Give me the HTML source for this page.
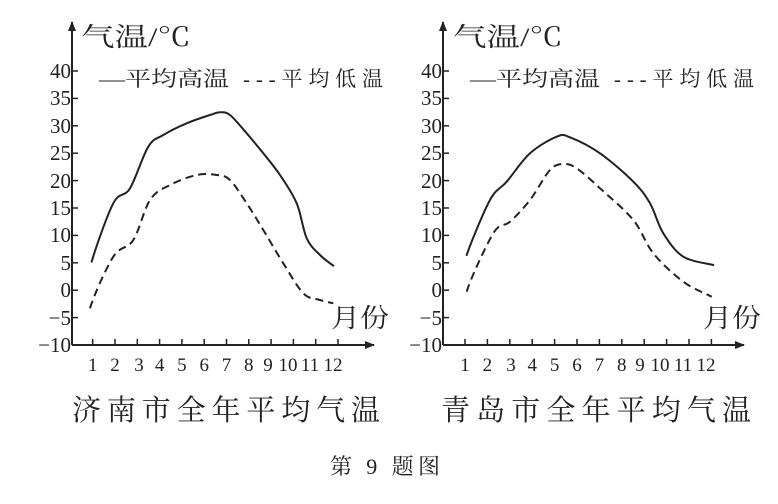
<!DOCTYPE html>
<html><head><meta charset="utf-8"><style>
html,body{margin:0;padding:0;background:#fff;}
svg{display:block;}
text{font-family:"Liberation Serif","Noto Serif CJK SC",serif;fill:#222;}
</style></head><body>
<svg width="778" height="504" viewBox="0 0 778 504" xmlns="http://www.w3.org/2000/svg">
<defs>
<marker id="ar" markerWidth="10" markerHeight="8" refX="9" refY="4" orient="auto" markerUnits="userSpaceOnUse">
<path d="M0,0 L10,4 L0,8 Z" fill="#222"/></marker>
</defs>
<g stroke="#222" stroke-width="2" fill="none">
<line x1="72" y1="345" x2="72" y2="22" marker-end="url(#ar)"/>
<line x1="72" y1="345" x2="374" y2="345" marker-end="url(#ar)"/>
<line x1="443" y1="345" x2="443" y2="22" marker-end="url(#ar)"/>
<line x1="443" y1="345" x2="744" y2="345" marker-end="url(#ar)"/>
</g>
<g stroke="#222" stroke-width="1.5">
<line x1="72" y1="71" x2="78" y2="71"/><line x1="72" y1="98.4" x2="78" y2="98.4"/><line x1="72" y1="125.8" x2="78" y2="125.8"/><line x1="72" y1="153.2" x2="78" y2="153.2"/><line x1="72" y1="180.6" x2="78" y2="180.6"/><line x1="72" y1="208" x2="78" y2="208"/><line x1="72" y1="235.4" x2="78" y2="235.4"/><line x1="72" y1="262.8" x2="78" y2="262.8"/><line x1="72" y1="290.2" x2="78" y2="290.2"/><line x1="72" y1="317.6" x2="78" y2="317.6"/>
<line x1="443" y1="71" x2="449" y2="71"/><line x1="443" y1="98.4" x2="449" y2="98.4"/><line x1="443" y1="125.8" x2="449" y2="125.8"/><line x1="443" y1="153.2" x2="449" y2="153.2"/><line x1="443" y1="180.6" x2="449" y2="180.6"/><line x1="443" y1="208" x2="449" y2="208"/><line x1="443" y1="235.4" x2="449" y2="235.4"/><line x1="443" y1="262.8" x2="449" y2="262.8"/><line x1="443" y1="290.2" x2="449" y2="290.2"/><line x1="443" y1="317.6" x2="449" y2="317.6"/>
<line x1="92.7" y1="345" x2="92.7" y2="339"/><line x1="115" y1="345" x2="115" y2="339"/><line x1="137.3" y1="345" x2="137.3" y2="339"/><line x1="159.6" y1="345" x2="159.6" y2="339"/><line x1="181.9" y1="345" x2="181.9" y2="339"/><line x1="204.2" y1="345" x2="204.2" y2="339"/><line x1="226.5" y1="345" x2="226.5" y2="339"/><line x1="248.8" y1="345" x2="248.8" y2="339"/><line x1="271.1" y1="345" x2="271.1" y2="339"/><line x1="293.4" y1="345" x2="293.4" y2="339"/><line x1="315.7" y1="345" x2="315.7" y2="339"/><line x1="338" y1="345" x2="338" y2="339"/>
<line x1="465" y1="345" x2="465" y2="339"/><line x1="487.4" y1="345" x2="487.4" y2="339"/><line x1="509.8" y1="345" x2="509.8" y2="339"/><line x1="532.2" y1="345" x2="532.2" y2="339"/><line x1="554.6" y1="345" x2="554.6" y2="339"/><line x1="577" y1="345" x2="577" y2="339"/><line x1="599.4" y1="345" x2="599.4" y2="339"/><line x1="621.8" y1="345" x2="621.8" y2="339"/><line x1="644.2" y1="345" x2="644.2" y2="339"/><line x1="666.6" y1="345" x2="666.6" y2="339"/><line x1="689" y1="345" x2="689" y2="339"/><line x1="711.4" y1="345" x2="711.4" y2="339"/>
</g>
<g fill="none" stroke="#222" stroke-width="2" stroke-linejoin="round" stroke-linecap="round">
<path d="M91.7,261.7 C95,250 106.9,215.5 113.3,203.3 S124.2,197.7 130,188.3 S142.7,155.6 148.3,146.7 S156.9,138.9 163.3,135 S178.9,126.6 186.7,123.3 S204.4,116.8 210,115 S216.7,112.3 220,112.3 S225.5,111.5 230,115 S241.1,126.9 246.7,133.3 S257.7,146.3 263.3,153.3 S274.4,166.7 280,175 S292.2,192.7 296.7,203.3 S302.8,229.7 306.7,238.3 S315.6,250.4 320,255 S331.1,263.9 333.3,265.7"/>
<path d="M466.7,255 C470,245 483.3,212.2 490,200 S500,189.5 506.7,181.7 S521.7,160.8 530,153.3 S550,139.4 556.7,136.7 S562.8,134.5 570,137.3 S589.4,145.9 600,153.3 S625,173.4 633.3,181.7 S645,194.7 650,203.3 S657.7,224.4 663.3,233.3 S675,251.4 683.3,256.7 S708.3,263.6 713.3,265"/>
</g>
<g fill="none" stroke="#222" stroke-width="2" stroke-dasharray="8,5" stroke-linejoin="round">
<path d="M90,308.3 C94,295 106.1,268.1 113.3,256.7 S127.2,249.5 133.3,240 S143.9,209.2 150,200 S162.2,189.2 170,185 S188.9,176.7 196.7,175 S211.1,174.2 216.7,175 S225,175.3 230,180 S241.1,195 246.7,203.3 S257.2,220 263.3,230 S276.6,252.7 283.3,263.3 S297.2,287.2 303.3,293.3 S315,298.3 320,300 S331.1,302.7 333.3,303.3"/>
<path d="M466.7,291.7 C470,280 486.1,245 493.3,233.3 S503.9,227.3 510,221.7 S523.3,208.6 530,200 S544.4,176 550,170 S558.8,164.3 563.3,164 S570.6,164.3 576.7,168.3 S590.6,179.7 600,188.3 S624.4,209.2 633.3,220 S645,243 653.3,253.3 S673.6,274.5 683.3,281.7 S707,294.2 711.7,296.7"/>
</g>
<g font-size="21" text-anchor="end">
<text x="71" y="78">40</text><text x="71" y="105">35</text><text x="71" y="133">30</text><text x="71" y="160">25</text><text x="71" y="188">20</text><text x="71" y="215">15</text><text x="71" y="242">10</text><text x="71" y="270">5</text><text x="71" y="297">0</text><text x="71" y="325">−5</text><text x="71" y="352">−10</text>
<text x="442" y="78">40</text><text x="442" y="105">35</text><text x="442" y="133">30</text><text x="442" y="160">25</text><text x="442" y="188">20</text><text x="442" y="215">15</text><text x="442" y="242">10</text><text x="442" y="270">5</text><text x="442" y="297">0</text><text x="442" y="325">−5</text><text x="442" y="352">−10</text>
</g>
<g font-size="19" text-anchor="middle">
<text x="92.7" y="371">1</text><text x="115" y="371">2</text><text x="139" y="371">3</text><text x="159.6" y="371">4</text><text x="181.9" y="371">5</text><text x="204.2" y="371">6</text><text x="226.5" y="371">7</text><text x="248.8" y="371">8</text><text x="268" y="371">9</text><text x="288" y="371">10</text><text x="310" y="371">11</text><text x="333" y="371">12</text>
<text x="465" y="371">1</text><text x="487.4" y="371">2</text><text x="511" y="371">3</text><text x="532.2" y="371">4</text><text x="554.6" y="371">5</text><text x="577" y="371">6</text><text x="599.4" y="371">7</text><text x="621.8" y="371">8</text><text x="640" y="371">9</text><text x="660" y="371">10</text><text x="683" y="371">11</text><text x="706" y="371">12</text>
</g>
<g font-size="26">
<text x="81" y="46" textLength="110" lengthAdjust="spacingAndGlyphs">气温/℃</text>
<text x="453" y="46" textLength="110" lengthAdjust="spacingAndGlyphs">气温/℃</text>
<text x="331" y="327" textLength="58" lengthAdjust="spacingAndGlyphs">月份</text>
<text x="703" y="327" textLength="58" lengthAdjust="spacingAndGlyphs">月份</text>
</g>
<g font-size="21">
<text x="99" y="86" textLength="130" lengthAdjust="spacingAndGlyphs">—平均高温</text>
<text x="243" y="86" textLength="140" lengthAdjust="spacing">---平均低温</text>
<text x="470" y="86" textLength="130" lengthAdjust="spacingAndGlyphs">—平均高温</text>
<text x="614" y="86" textLength="140" lengthAdjust="spacing">---平均低温</text>
</g>
<g font-size="29">
<text x="72" y="420" textLength="308" lengthAdjust="spacing">济南市全年平均气温</text>
<text x="441" y="420" textLength="310" lengthAdjust="spacing">青岛市全年平均气温</text>
</g>
<text x="330" y="474" font-size="22" textLength="110" lengthAdjust="spacing">第 9 题图</text>
</svg>
</body></html>
